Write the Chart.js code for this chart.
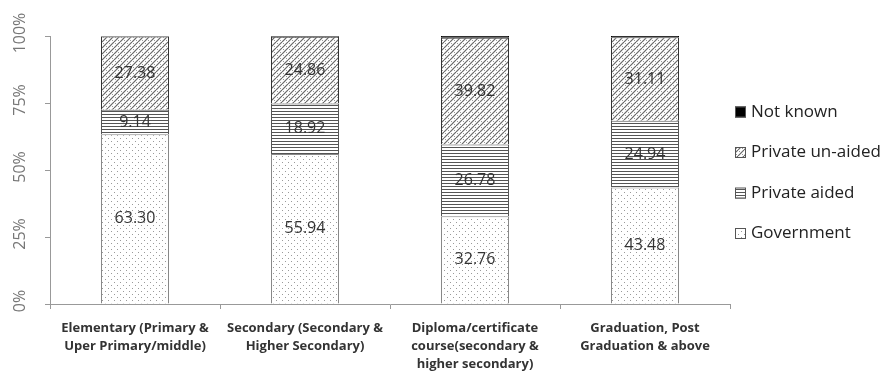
<!DOCTYPE html>
<html>
<head>
<meta charset="utf-8">
<script src="https://cdn.jsdelivr.net/npm/chart.js@4"></script>
<style>
  html, body { margin: 0; padding: 0; background: #fff; }
  #wrap { width: 885px; height: 377px; position: relative; }
</style>
</head>
<body>
<div id="wrap"><canvas id="chart"></canvas></div>
<script>
const categories = [
  ['Elementary (Primary &', 'Uper Primary/middle)'],
  ['Secondary (Secondary &', 'Higher Secondary)'],
  ['Diploma/certificate', 'course(secondary &', 'higher secondary)'],
  ['Graduation, Post', 'Graduation & above']
];
const government = [63.30, 55.94, 32.76, 43.48];
const privateAided = [9.14, 18.92, 26.78, 24.94];
const privateUnaided = [27.38, 24.86, 39.82, 31.11];
const notKnown = [0.18, 0.28, 0.64, 0.47];
const yTickLabels = ['0%', '25%', '50%', '75%', '100%'];

const canvas = document.getElementById('chart');
const ctx = canvas.getContext('2d');

function makePattern(w, h, draw) {
  const c = document.createElement('canvas');
  c.width = w;
  c.height = h;
  const g = c.getContext('2d');
  g.fillStyle = '#fff';
  g.fillRect(0, 0, w, h);
  draw(g);
  return ctx.createPattern(c, 'repeat');
}

// dotted fill
const dots = makePattern(6, 6, g => {
  g.fillStyle = '#9a9a9a';
  g.fillRect(0, 0, 1, 1);
  g.fillRect(3, 3, 1, 1);
});

// horizontal stripes
const stripes = makePattern(4, 3, g => {
  g.fillStyle = '#555';
  g.fillRect(0, 0, 4, 1);
});

// diagonal hatch
const hatch = makePattern(6, 6, g => {
  g.strokeStyle = '#666';
  g.lineWidth = 1.2;
  for (let o = -6; o <= 6; o += 6) {
    g.beginPath();
    g.moveTo(o, 6);
    g.lineTo(o + 6, 0);
    g.stroke();
  }
  g.fillStyle = '#999';
  g.fillRect(1, 1, 1, 1);
  g.fillRect(4, 4, 1, 1);
});

const segmentLabels = {
  id: 'segmentLabels',
  afterDatasetsDraw(chart) {
    const c = chart.ctx;
    c.save();
    c.font = '16px "Open Sans"';
    c.fillStyle = '#333';
    c.textAlign = 'center';
    c.textBaseline = 'middle';
    chart.data.datasets.forEach((ds, i) => {
      if (ds.label === 'Not known') return;
      chart.getDatasetMeta(i).data.forEach((bar, j) => {
        const p = bar.getProps(['x', 'y', 'base'], true);
        c.fillText(ds.data[j].toFixed(2), p.x, (p.y + p.base) / 2);
      });
    });
    c.restore();
  }
};

// y tick labels are drawn rotated, like the original
const rotatedYTicks = {
  id: 'rotatedYTicks',
  afterDraw(chart) {
    const c = chart.ctx;
    const y = chart.scales.y;
    c.save();
    c.font = '16px "Open Sans"';
    c.fillStyle = '#777';
    c.textAlign = 'center';
    c.textBaseline = 'middle';
    y.ticks.forEach((t, i) => {
      const py = y.getPixelForValue(t.value);
      c.save();
      c.translate(20, py - 3);
      c.rotate(-Math.PI / 2);
      c.fillText(yTickLabels[i], 0, 0);
      c.restore();
    });
    c.restore();
  }
};

// legend on the right, top item first (reverse of stack order)
const sideLegend = {
  id: 'sideLegend',
  afterDraw(chart) {
    const c = chart.ctx;
    const ds = chart.data.datasets.slice().reverse();
    c.save();
    c.font = '17px "Open Sans"';
    c.textBaseline = 'middle';
    c.textAlign = 'left';
    ds.forEach((d, i) => {
      const cy = 112 + i * 40.5;
      c.fillStyle = d.backgroundColor;
      c.fillRect(735, cy - 5.5, 11, 11);
      c.strokeStyle = '#555';
      c.lineWidth = 1;
      c.strokeRect(735.5, cy - 5, 10, 10);
      c.fillStyle = '#222';
      c.fillText(d.label, 751, cy);
    });
    c.restore();
  }
};

new Chart(canvas, {
  type: 'bar',
  data: {
    labels: categories,
    datasets: [
      { label: 'Government', data: government, backgroundColor: dots, borderColor: '#888' },
      { label: 'Private aided', data: privateAided, backgroundColor: stripes, borderColor: '#555' },
      { label: 'Private un-aided', data: privateUnaided, backgroundColor: hatch, borderColor: '#333' },
      { label: 'Not known', data: notKnown, backgroundColor: '#000', borderColor: '#000' }
    ]
  },
  options: {
    responsive: true,
    maintainAspectRatio: false,
    animation: false,
    barPercentage: 0.4,
    categoryPercentage: 1,
    borderWidth: 1,
    layout: { padding: { top: 36, right: 155 } },
    plugins: {
      legend: { display: false },
      tooltip: { enabled: false }
    },
    scales: {
      x: {
        stacked: true,
        grid: { offset: true, drawOnChartArea: false, tickLength: 5, color: '#999' },
        border: { color: '#999' },
        ticks: {
          font: { family: 'Open Sans', size: 13, weight: 'bold', lineHeight: 1.4 },
          color: '#333',
          maxRotation: 0,
          padding: 10
        },
        afterFit(scale) { scale.height = 73; }
      },
      y: {
        stacked: true,
        min: 0,
        max: 100,
        ticks: { stepSize: 25, color: 'rgba(0,0,0,0)' },
        grid: { drawOnChartArea: false, tickLength: 5, color: '#999' },
        border: { color: '#999' },
        afterFit(scale) { scale.width = 50; }
      }
    }
  },
  plugins: [segmentLabels, rotatedYTicks, sideLegend]
});
</script>
</body>
</html>
